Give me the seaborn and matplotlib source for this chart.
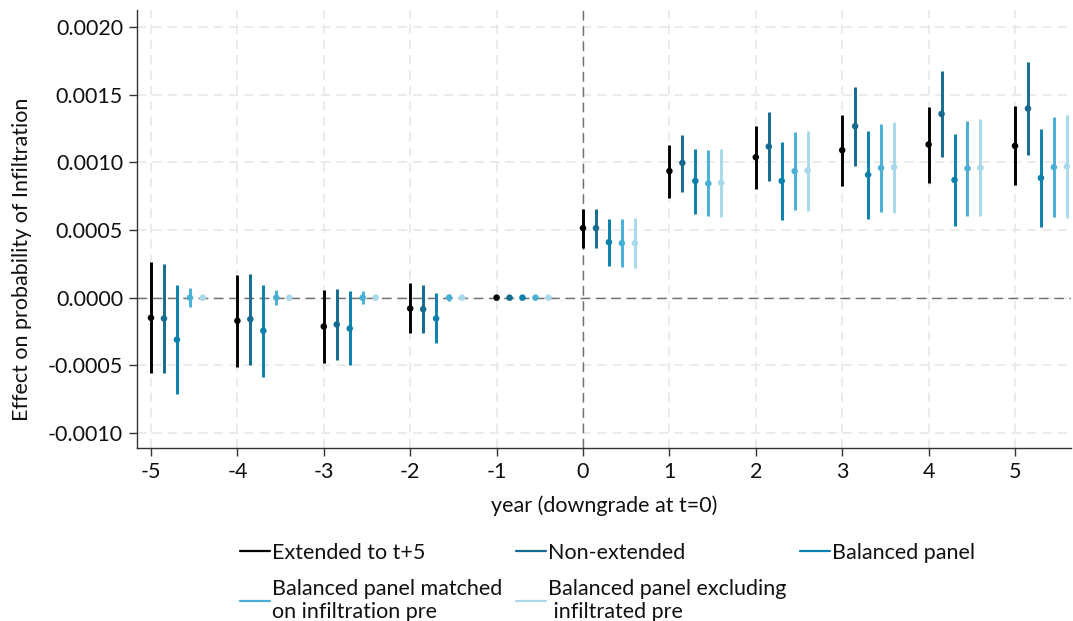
import numpy as np
import pandas as pd
import matplotlib
matplotlib.use("Agg")
import matplotlib.pyplot as plt
import seaborn as sns
from matplotlib.lines import Line2D

years = [-5, -4, -3, -2, -1, 0, 1, 2, 3, 4, 5]
series_names = ["Extended to t+5", "Non-extended", "Balanced panel",
                "Balanced panel matched\non infiltration pre",
                "Balanced panel excluding\n infiltrated pre"]
colors = ["#000000", "#16698f", "#0a80ad", "#4aafd6", "#a8d9eb"]

# point estimates
est_ext = [-0.000149, -0.000171, -0.000213, -0.000080, 0.0, 0.000514, 0.000935, 0.001038, 0.001090, 0.001132, 0.001122]
est_non = [-0.000154, -0.000159, -0.000198, -0.000085, 0.0, 0.000514, 0.000996, 0.001117, 0.001267, 0.001358, 0.001398]
est_bal = [-0.000310, -0.000245, -0.000228, -0.000154, 0.0, 0.000410, 0.000863, 0.000863, 0.000908, 0.000870, 0.000885]
est_mat = [0.0, 0.0, 0.0, 0.0, 0.0, 0.000403, 0.000844, 0.000935, 0.000959, 0.000955, 0.000964]
est_exc = [0.0, 0.0, 0.0, 0.0, 0.0, 0.000403, 0.000849, 0.000940, 0.000964, 0.000959, 0.000969]

# upper bounds
hi_ext = [0.000260, 0.000171, 0.000055, 0.000105, 0.0, 0.000659, 0.001129, 0.001270, 0.001349, 0.001410, 0.001418]
hi_non = [0.000248, 0.000174, 0.000063, 0.000097, 0.0, 0.000659, 0.001201, 0.001371, 0.001555, 0.001676, 0.001740]
hi_bal = [0.000095, 0.000092, 0.000048, 0.000031, 0.0, 0.000582, 0.001100, 0.001149, 0.001230, 0.001213, 0.001245]
hi_mat = [0.000068, 0.000053, 0.000048, 0.000026, 0.0, 0.000578, 0.001090, 0.001221, 0.001282, 0.001304, 0.001334]
hi_exc = [0.000008, 0.000006, 0.000006, 0.000005, 0.0, 0.000587, 0.001100, 0.001235, 0.001299, 0.001319, 0.001351]

# lower bounds
lo_ext = [-0.000560, -0.000516, -0.000486, -0.000260, 0.0, 0.000366, 0.000735, 0.000804, 0.000826, 0.000851, 0.000829]
lo_non = [-0.000556, -0.000496, -0.000462, -0.000260, 0.0, 0.000366, 0.000782, 0.000861, 0.000974, 0.001036, 0.001053]
lo_bal = [-0.000713, -0.000587, -0.000501, -0.000336, 0.0, 0.000235, 0.000622, 0.000573, 0.000582, 0.000528, 0.000519]
lo_mat = [-0.000068, -0.000053, -0.000046, -0.000024, 0.0, 0.000228, 0.000600, 0.000647, 0.000632, 0.000607, 0.000595]
lo_exc = [-0.000008, -0.000006, -0.000006, -0.000005, 0.0, 0.000220, 0.000595, 0.000639, 0.000627, 0.000600, 0.000586]

ests = [est_ext, est_non, est_bal, est_mat, est_exc]
his = [hi_ext, hi_non, hi_bal, hi_mat, hi_exc]
los = [lo_ext, lo_non, lo_bal, lo_mat, lo_exc]

rows = []
for k, name in enumerate(series_names):
    for i, yr in enumerate(years):
        rows.append({"series": name, "year": yr, "xpos": yr + 0.15 * k,
                     "est": ests[k][i], "lo": los[k][i], "hi": his[k][i]})
df = pd.DataFrame(rows)

sns.set_theme(style="white")
plt.rcParams["font.family"] = ["Lato", "DejaVu Sans"]
FS = 15.5

fig = plt.figure(figsize=(10.73, 6.21), dpi=100)
ax = fig.add_axes([137 / 1073, 1 - 448 / 621, (1071 - 137) / 1073, (448 - 10) / 621])

ax.set_xlim(-5.162, 5.648)
ax.set_ylim(-0.001111, 0.002126)

yticks = [-0.0010, -0.0005, 0.0, 0.0005, 0.0010, 0.0015, 0.0020]
ytick_labels = ["-0.0010", "-0.0005", "0.0000", "0.0005", "0.0010", "0.0015", "0.0020"]
ax.set_xticks(years)
ax.set_xticklabels([str(y) for y in years])
ax.set_yticks(yticks)
ax.set_yticklabels(ytick_labels)

for t in years:
    ax.axvline(t, color="#e9e9e9", lw=1.3, dashes=(5, 3.5), zorder=0)
for t in yticks:
    ax.axhline(t, color="#e9e9e9", lw=1.3, dashes=(5, 3.5), zorder=0)
ax.axhline(0, color="#707070", lw=1.0, dashes=(7, 4), zorder=1)
ax.axvline(0, color="#707070", lw=1.0, dashes=(7, 4), zorder=1)

pal = dict(zip(series_names, colors))
for name in series_names:
    sub = df[df["series"] == name]
    ax.vlines(sub["xpos"], sub["lo"], sub["hi"], color=pal[name], lw=2.1, zorder=3)
sns.scatterplot(data=df, x="xpos", y="est", hue="series", palette=pal,
                s=22, edgecolor="none", legend=False, ax=ax, zorder=4)

for side in ["top", "right"]:
    ax.spines[side].set_visible(False)
for side in ["left", "bottom"]:
    ax.spines[side].set_color("#333333")
    ax.spines[side].set_linewidth(1.0)
ax.tick_params(axis="both", which="major", direction="out", length=6, width=1,
               color="#333333", labelsize=FS, labelcolor="#111111", pad=4,
               left=True, bottom=True)

ax.set_xlabel("year (downgrade at t=0)", fontsize=FS, color="#111111", labelpad=10)
ax.set_ylabel("Effect on probability of Infiltration", fontsize=FS, color="#111111")
ax.yaxis.set_label_coords(-0.112, 0.43)

handles = [Line2D([0], [0], color=c, lw=1.6) for c in colors]
order = [0, 3, 1, 4, 2]
leg = fig.legend([handles[i] for i in order], [series_names[i] for i in order],
                 loc="upper left", bbox_to_anchor=(240 / 1073, 1 - 543 / 621),
                 ncol=3, frameon=False, fontsize=FS, handlelength=1.4,
                 handletextpad=0.1, columnspacing=0.62, borderpad=0,
                 labelspacing=0.75, borderaxespad=0)
for t in leg.get_texts():
    t.set_color("#111111")

fig.savefig("out.png", dpi=100)
